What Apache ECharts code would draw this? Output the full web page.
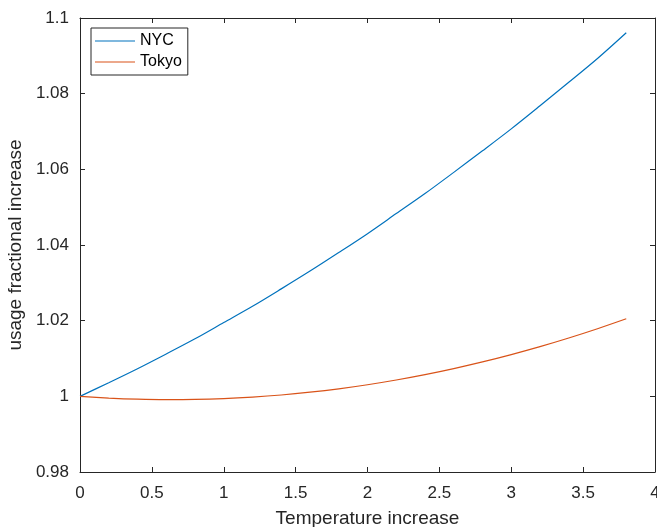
<!DOCTYPE html>
<html>
<head>
<meta charset="utf-8">
<script src="https://cdn.jsdelivr.net/npm/echarts@6/dist/echarts.min.js"></script>
<style>
  html, body { margin: 0; padding: 0; background: #fff; }
  #chart { width: 657px; height: 527px; }
</style>
</head>
<body>
<div id="chart"></div>
<script>
// Temperature increase (x) and fractional change in usage for each city
const temps = [0, 0.2, 0.4, 0.6, 0.8, 1.0, 1.2, 1.4, 1.6, 1.8, 2.0, 2.2, 2.4, 2.6, 2.8, 3.0, 3.2, 3.4, 3.6, 3.8];
const nycValues = [1.0000, 1.0036, 1.0073, 1.0112, 1.0152, 1.0195, 1.0238, 1.0284, 1.0331, 1.0380,
                   1.0430, 1.0483, 1.0536, 1.0592, 1.0649, 1.0707, 1.0768, 1.0830, 1.0893, 1.0961];
const tokyoValues = [1.0000, 0.99954, 0.99924, 0.99912, 0.99917, 0.99939, 0.99979, 1.00035, 1.00109, 1.00199,
                     1.00307, 1.00432, 1.00574, 1.00734, 1.00910, 1.01104, 1.01314, 1.01542, 1.01787, 1.02050];
const seriesNames = ['NYC', 'Tokyo'];
const xTicks = { min: 0, max: 4, step: 0.5 };
const yTicks = { min: 0.98, max: 1.1, step: 0.02 };

const axisColor = '#262626';
const fontFamily = '"Liberation Sans", Arial, Helvetica, sans-serif';

const pairs = vals => temps.map((t, i) => [t, vals[i]]);

function xAxisDef(pos, labels) {
  return {
    type: 'value', position: pos,
    min: xTicks.min, max: xTicks.max, interval: xTicks.step,
    axisLine: { show: true, onZero: false, lineStyle: { color: axisColor, width: 1 } },
    axisTick: { show: true, inside: true, length: 5, lineStyle: { color: axisColor } },
    axisLabel: { show: labels, color: axisColor, fontSize: 17, fontFamily, margin: 13 },
    splitLine: { show: false }
  };
}
function yAxisDef(pos, labels) {
  return {
    type: 'value', position: pos,
    min: yTicks.min, max: yTicks.max, interval: yTicks.step,
    axisLine: { show: true, onZero: false, lineStyle: { color: axisColor, width: 1 } },
    axisTick: { show: true, inside: true, length: 5, lineStyle: { color: axisColor } },
    axisLabel: {
      show: labels, color: axisColor, fontSize: 17, fontFamily, margin: 11,
      formatter: v => String(parseFloat(v.toFixed(2)))
    },
    splitLine: { show: false }
  };
}

const xBottom = xAxisDef('bottom', true);
xBottom.name = 'Temperature increase';
xBottom.nameLocation = 'middle';
xBottom.nameGap = 37;
xBottom.nameTextStyle = { color: axisColor, fontSize: 19, fontFamily };

const yLeft = yAxisDef('left', true);
yLeft.name = 'usage fractional increase';
yLeft.nameLocation = 'middle';
yLeft.nameGap = 50;
yLeft.nameTextStyle = { color: axisColor, fontSize: 19, fontFamily };

const chart = echarts.init(document.getElementById('chart'), null, { renderer: 'canvas' });
chart.setOption({
  backgroundColor: '#ffffff',
  animation: false,
  grid: { left: 80, right: 2, top: 18, bottom: 55, containLabel: false, outerBoundsMode: 'none' },
  xAxis: [xBottom, xAxisDef('top', false)],
  yAxis: [yLeft, yAxisDef('right', false)],
  legend: {
    orient: 'vertical', left: 91, top: 28,
    data: seriesNames,
    icon: 'rect',
    backgroundColor: '#fff',
    borderColor: axisColor, borderWidth: 1, borderRadius: 0,
    padding: [5, 6, 5, 4],
    itemGap: 5, itemWidth: 40, itemHeight: 1.2,
    textStyle: { color: '#000', fontSize: 16, fontFamily }
  },
  series: [
    {
      name: seriesNames[0], type: 'line', xAxisIndex: 0, yAxisIndex: 0,
      data: pairs(nycValues), symbol: 'none', smooth: 0.3,
      lineStyle: { color: '#0072BD', width: 1.2 }, itemStyle: { color: '#0072BD' }
    },
    {
      name: seriesNames[1], type: 'line', xAxisIndex: 0, yAxisIndex: 0,
      data: pairs(tokyoValues), symbol: 'none', smooth: 0.3,
      lineStyle: { color: '#D95319', width: 1.2 }, itemStyle: { color: '#D95319' }
    }
  ]
});
</script>
</body>
</html>
